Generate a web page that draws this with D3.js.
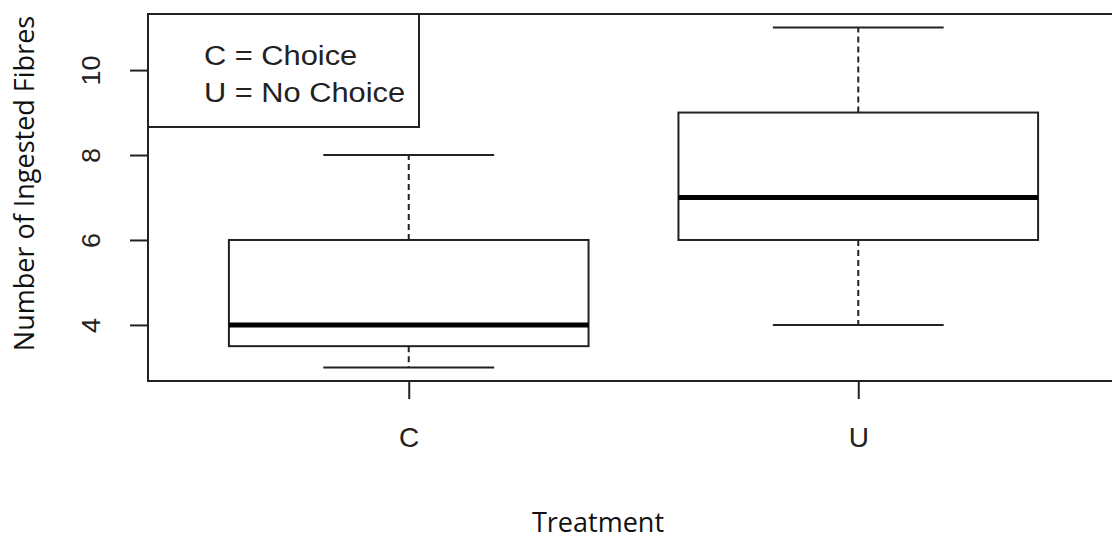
<!DOCTYPE html>
<html>
<head>
<meta charset="utf-8">
<script src="https://cdn.jsdelivr.net/npm/d3@7"></script>
<style>
  html, body { margin: 0; padding: 0; background: #fff; }
  svg { display: block; }
</style>
</head>
<body>
<svg id="chart" width="1112" height="540"></svg>
<script>
// Treatment groups and their five-number summaries
const groups = ["C", "U"];
const whiskerLow  = [3, 4];
const lowerQuart  = [3.5, 6];
const medians     = [4, 7];
const upperQuart  = [6, 9];
const whiskerHigh = [8, 11];
const yTicks = [4, 6, 8, 10];
const legendLines = ["C = Choice", "U = No Choice"];

const svg = d3.select("#chart");
const ink = "#222";
const sans = "'Liberation Sans', Arial, sans-serif";

// Plot frame in pixels; x runs over group positions 1..n with R-style padding
const frame = { left: 148, right: 1119, top: 14, bottom: 381 };
const x = d3.scaleLinear().domain([0.42, 2.58]).range([frame.left, frame.right]);
const y = d3.scaleLinear().domain([2.68, 11.32]).range([frame.bottom, frame.top]);

const boxHalf = 0.4, capHalf = 0.19;

const g = svg.append("g");

groups.forEach((name, i) => {
  const pos = i + 1;
  // dashed whiskers
  g.append("line")
    .attr("x1", x(pos)).attr("x2", x(pos))
    .attr("y1", y(upperQuart[i])).attr("y2", y(whiskerHigh[i]))
    .attr("stroke", ink).attr("stroke-width", 2).attr("stroke-dasharray", "6,4");
  g.append("line")
    .attr("x1", x(pos)).attr("x2", x(pos))
    .attr("y1", y(lowerQuart[i])).attr("y2", y(whiskerLow[i]))
    .attr("stroke", ink).attr("stroke-width", 2).attr("stroke-dasharray", "6,4");
  // staples
  [whiskerLow[i], whiskerHigh[i]].forEach(v => {
    g.append("line")
      .attr("x1", x(pos - capHalf)).attr("x2", x(pos + capHalf))
      .attr("y1", y(v)).attr("y2", y(v))
      .attr("stroke", ink).attr("stroke-width", 2);
  });
  // box
  g.append("rect")
    .attr("x", x(pos - boxHalf)).attr("width", x(pos + boxHalf) - x(pos - boxHalf))
    .attr("y", y(upperQuart[i])).attr("height", y(lowerQuart[i]) - y(upperQuart[i]))
    .attr("fill", "#fff").attr("stroke", ink).attr("stroke-width", 2);
  // median
  g.append("line")
    .attr("x1", x(pos - boxHalf)).attr("x2", x(pos + boxHalf))
    .attr("y1", y(medians[i])).attr("y2", y(medians[i]))
    .attr("stroke", "#000").attr("stroke-width", 5);
});

// Frame
g.append("rect")
  .attr("x", frame.left).attr("y", frame.top)
  .attr("width", frame.right - frame.left).attr("height", frame.bottom - frame.top)
  .attr("fill", "none").attr("stroke", ink).attr("stroke-width", 2);

// Y axis
const yAxis = d3.axisLeft(y).tickValues(yTicks).tickSize(18).tickPadding(0).tickFormat(d3.format("d"));
const ya = svg.append("g").attr("transform", `translate(${frame.left},0)`).call(yAxis);
ya.select(".domain").remove();
ya.selectAll(".tick line").attr("stroke", ink).attr("stroke-width", 2);
ya.selectAll(".tick text")
  .attr("x", 0).attr("dy", null)
  .attr("transform", "translate(-57,0) rotate(-90) scale(1.08,1)")
  .attr("text-anchor", "middle")
  .attr("dominant-baseline", "central")
  .style("font-family", sans)
  .style("font-size", "25px").attr("fill", ink);

// X axis
const xAxis = d3.axisBottom(x).tickValues(groups.map((d, i) => i + 1))
  .tickFormat((d, i) => groups[i]).tickSize(18).tickPadding(28);
const xa = svg.append("g").attr("transform", `translate(0,${frame.bottom})`).call(xAxis);
xa.select(".domain").remove();
xa.selectAll(".tick line").attr("stroke", ink).attr("stroke-width", 2);
xa.selectAll(".tick text")
  .style("font-family", sans)
  .style("font-size", "28px").attr("fill", ink);

// Legend box in the top-left corner
svg.append("rect")
  .attr("x", frame.left).attr("y", frame.top)
  .attr("width", 419 - frame.left).attr("height", 127 - frame.top)
  .attr("fill", "#fff").attr("stroke", ink).attr("stroke-width", 2);
svg.append("g").selectAll("text").data(legendLines).join("text")
  .attr("transform", (d, i) => `translate(204,${65 + i * 37}) scale(1.1,1)`)
  .style("font-family", sans)
  .style("font-size", "28px").attr("fill", ink)
  .text(d => d);

// Axis titles
svg.append("text")
  .attr("transform", `translate(34,${(12 + 355) / 2}) rotate(-90)`)
  .attr("text-anchor", "middle")
  .style("font-family", "'Open Sans', sans-serif")
  .style("font-size", "27px").attr("fill", "#111")
  .text("Number of Ingested Fibres");
svg.append("text")
  .attr("x", 598).attr("y", 532)
  .attr("text-anchor", "middle")
  .style("font-family", "'Open Sans', sans-serif")
  .style("font-size", "27px").attr("fill", "#111")
  .text("Treatment");
</script>
</body>
</html>
